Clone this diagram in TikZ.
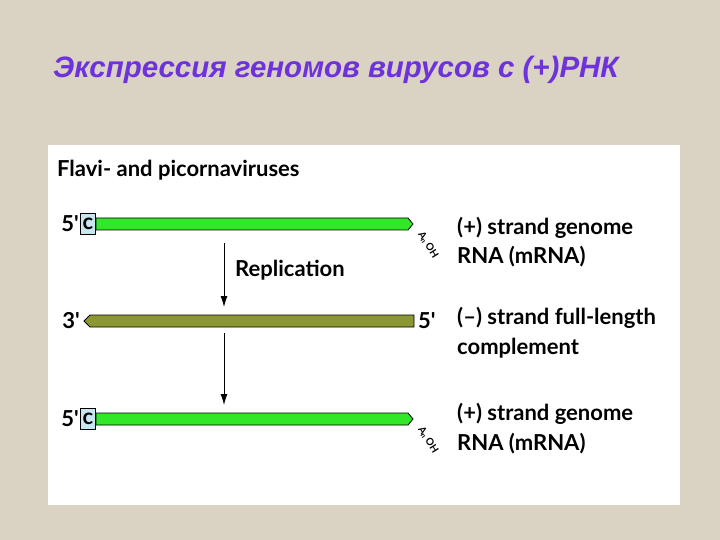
\documentclass[tikz,border=0pt]{standalone}
\usepackage{fontspec}
\setmainfont{Lato}
\newfontfamily\titlefont{Liberation Sans}
\usetikzlibrary{arrows.meta}
\begin{document}
\begin{tikzpicture}[x=1pt,y=-1pt,
  lbl/.style={font=\fontsize{22}{25}\selectfont\bfseries,anchor=west,inner sep=0},
  strand/.style={draw=black,line width=0.8pt},
  tail/.style={rotate=-58,font=\fontsize{10}{12}\selectfont\bfseries,inner sep=0},
  cap5/.style={draw=black,fill={rgb,255:red,200;green,230;blue,240},minimum width=15pt,minimum height=21pt,inner sep=0,font=\fontsize{22}{25}\selectfont\bfseries},
  flow/.style={-{Latex[length=11pt,width=7pt]},line width=0.8pt}]
\fill[fill={rgb,255:red,218;green,210;blue,194}] (0,0) rectangle (720,540);
\useasboundingbox (0,0) rectangle (720,540);
\node[anchor=west,inner sep=0,text={rgb,255:red,110;green,50;blue,220}] (title) at (53,70) {\titlefont\fontsize{29.5}{33}\selectfont\bfseries\itshape Экспрессия геномов вирусов с (+)РНК};
\fill[white] (48,145) rectangle (680,505);
\node[lbl] (hdr) at (57,170) {Flavi- and picornaviruses};
% strand 1
\draw[strand,fill={rgb,255:red,50;green,230;blue,40}] (96,218) -- (408,218) -- (413,224) -- (408,230) -- (96,230) -- cycle;
\node[cap5] (c1) at (88,224) {c};
\node[lbl,anchor=east] (p1) at (79,224) {5\textquotesingle};
\node[tail] (t1) at (428,245) {A\textsubscript{n}\,OH};
% strand 2
\draw[strand,fill={rgb,255:red,140;green,150;blue,50}] (414,315) -- (90,315) -- (84,321) -- (90,327) -- (414,327) -- cycle;
\node[lbl,anchor=east] (p2) at (80,321) {3\textquotesingle};
\node[lbl] (p3) at (418,321) {5\textquotesingle};
% strand 3
\draw[strand,fill={rgb,255:red,50;green,230;blue,40}] (96,413) -- (408,413) -- (413,419) -- (408,425) -- (96,425) -- cycle;
\node[cap5] (c2) at (88,419) {c};
\node[lbl,anchor=east] (p4) at (79,419) {5\textquotesingle};
\node[tail] (t2) at (428,440) {A\textsubscript{n}\,OH};
% arrows
\coordinate (a1) at (224,243); \coordinate (a2) at (224,307);
\coordinate (a3) at (224,333); \coordinate (a4) at (224,405);
\draw[flow] (a1) -- (a2);
\draw[flow] (a3) -- (a4);
\node[lbl] (rep) at (235,270) {Replication};
\node[lbl] (r1) at (457,228) {(+) strand genome};
\node[lbl] (r2) at (457,257) {RNA (mRNA)};
\node[lbl] (r3) at (457,318) {(--) strand full-length};
\node[lbl] (r4) at (457,348) {complement};
\node[lbl] (r5) at (457,414) {(+) strand genome};
\node[lbl] (r6) at (457,444) {RNA (mRNA)};
\end{tikzpicture}
\end{document}
